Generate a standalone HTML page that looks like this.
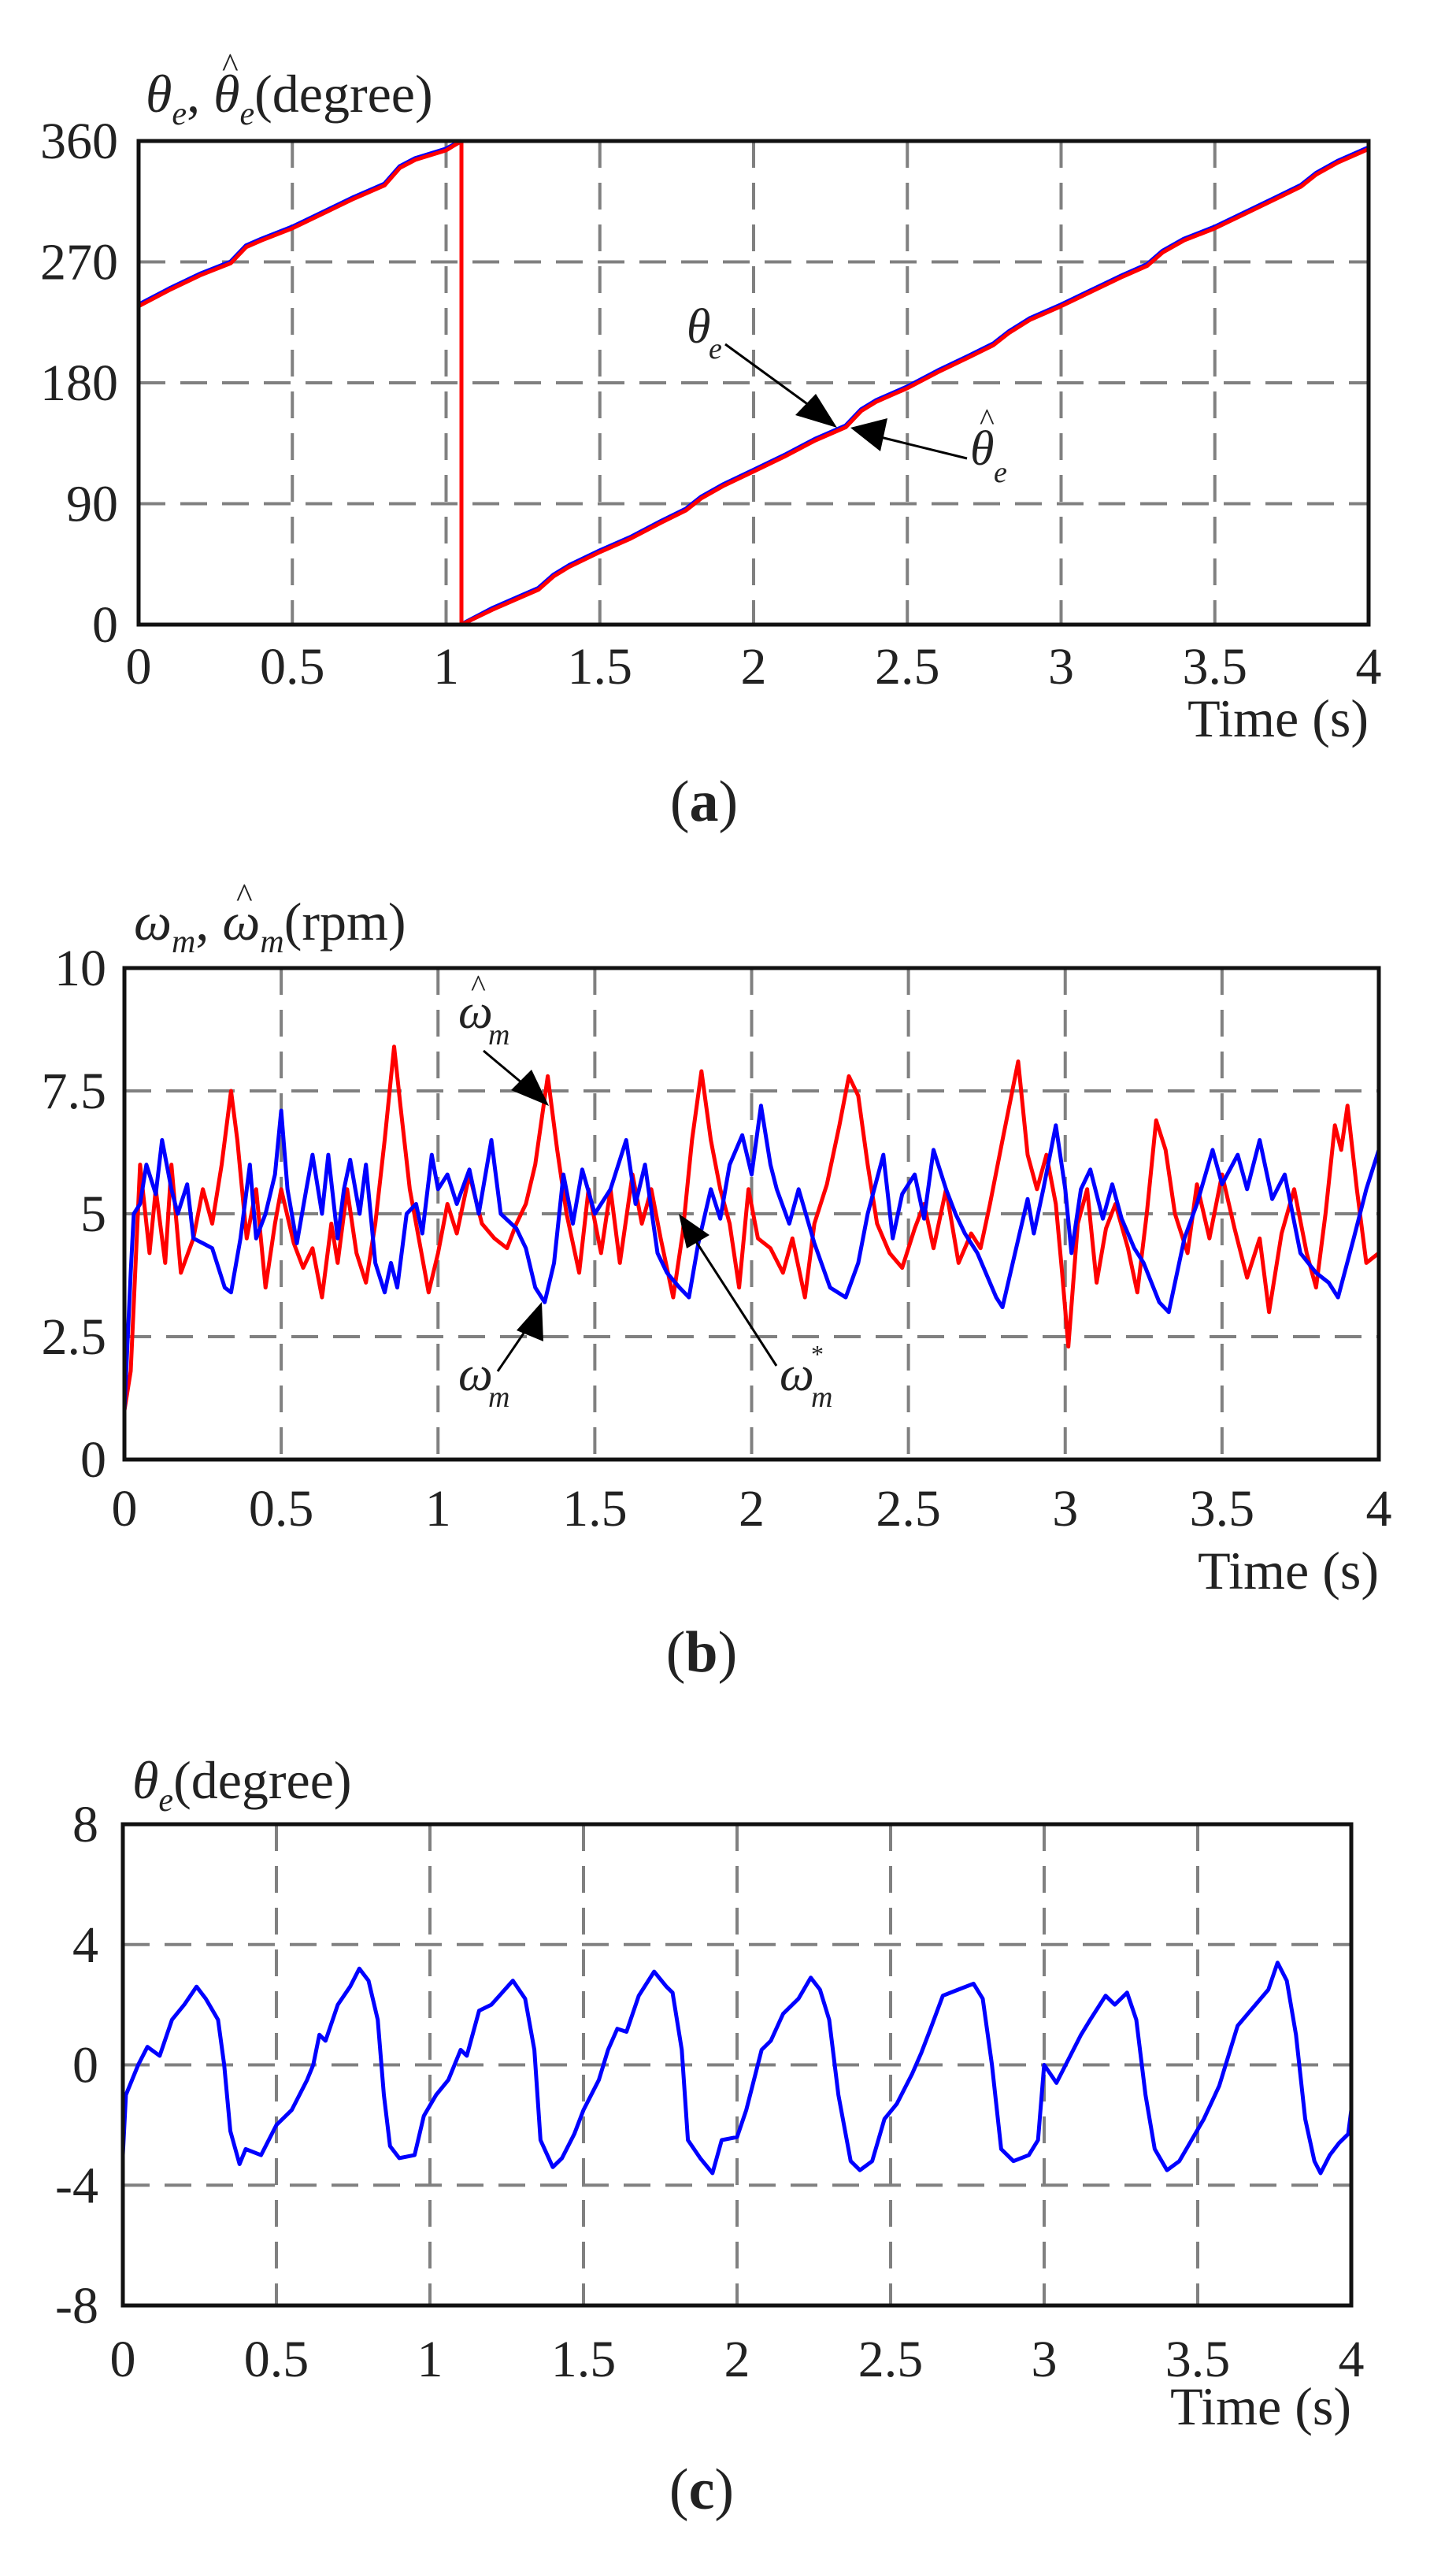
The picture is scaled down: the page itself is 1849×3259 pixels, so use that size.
<!DOCTYPE html>
<html><head><meta charset="utf-8">
<style>
html,body{margin:0;padding:0;background:#fff;}
svg{display:block;}
text{font-family:"Liberation Serif",serif;fill:#222;}
</style></head>
<body>
<svg id="fig" width="1849" height="3259" viewBox="0 0 1849 3259" xmlns="http://www.w3.org/2000/svg">
<rect width="1849" height="3259" fill="#fff"/>
<g id="pa"></g>
<g id="pb"></g>
<g id="pc"></g>

<!-- titles -->
<text x="185" y="142" font-size="68"><tspan font-style="italic">θ</tspan><tspan font-style="italic" font-size="42" dy="16">e</tspan><tspan dy="-16">, </tspan><tspan font-style="italic">θ</tspan><tspan font-style="italic" font-size="42" dy="16">e</tspan><tspan dy="-16">(degree)</tspan></text>
<text x="282" y="98" font-size="44">^</text>
<text x="170" y="1193" font-size="68"><tspan font-style="italic">ω</tspan><tspan font-style="italic" font-size="42" dy="16">m</tspan><tspan dy="-16">, </tspan><tspan font-style="italic">ω</tspan><tspan font-style="italic" font-size="42" dy="16">m</tspan><tspan dy="-16">(rpm)</tspan></text>
<text x="300" y="1152" font-size="44">^</text>
<text x="168" y="2283" font-size="68"><tspan font-style="italic">θ</tspan><tspan font-style="italic" font-size="42" dy="16">e</tspan><tspan dy="-16">(degree)</tspan></text>

<!-- panel labels -->
<text x="894" y="1042" font-size="74" text-anchor="middle">(<tspan font-weight="bold">a</tspan>)</text>
<text x="891" y="2122" font-size="74" text-anchor="middle">(<tspan font-weight="bold">b</tspan>)</text>
<text x="891" y="3185" font-size="74" text-anchor="middle">(<tspan font-weight="bold">c</tspan>)</text>

<!-- annotations panel a -->
<g>
<text x="872" y="435" font-size="62" font-style="italic">θ</text><text x="900" y="455" font-size="38" font-style="italic">e</text>
<line x1="921" y1="437" x2="1035" y2="520" stroke="#000" stroke-width="3"/>
<polygon points="1063,543 1010,527 1036,500" fill="#000"/>
</g>
<g>
<text x="1232" y="590" font-size="62" font-style="italic">θ</text><text x="1244" y="546" font-size="40">^</text><text x="1262" y="612" font-size="38" font-style="italic">e</text>
<line x1="1228" y1="582" x2="1110" y2="553" stroke="#000" stroke-width="3"/>
<polygon points="1080,543 1127,531 1118,573" fill="#000"/>
</g>
<!-- annotations panel b -->
<g>
<text x="582" y="1305" font-size="62" font-style="italic">ω</text><text x="598" y="1265" font-size="40">^</text><text x="620" y="1326" font-size="38" font-style="italic">m</text>
<line x1="614" y1="1334" x2="675" y2="1385" stroke="#000" stroke-width="3"/>
<polygon points="697,1404 649,1384 675,1358" fill="#000"/>
</g>
<g>
<text x="582" y="1765" font-size="62" font-style="italic">ω</text><text x="620" y="1786" font-size="38" font-style="italic">m</text>
<line x1="632" y1="1741" x2="675" y2="1678" stroke="#000" stroke-width="3"/>
<polygon points="688,1653 690,1703 656,1689" fill="#000"/>
</g>
<g>
<text x="990" y="1765" font-size="62" font-style="italic">ω</text><text x="1030" y="1730" font-size="32">*</text><text x="1030" y="1786" font-size="38" font-style="italic">m</text>
<line x1="986" y1="1734" x2="880" y2="1570" stroke="#000" stroke-width="3"/>
<polygon points="862,1541 901,1568 872,1585" fill="#000"/>
</g>
</svg>
<script>
// ---------- Panel (a) data ----------
const aT1 = [0,0.1,0.2,0.3,0.35,0.4,0.5,0.6,0.7,0.75,0.8,0.85,0.9,1.0,1.05];
const aTheta1 = [238,250,261,270,282,287,296,307,318,323,328,341,347,354,360];
const aT2 = [1.05,1.15,1.25,1.3,1.35,1.4,1.5,1.6,1.7,1.78,1.83,1.9,2.0,2.1,2.2,2.3,2.35,2.4,2.5,2.6,2.7,2.78,2.83,2.9,3.0,3.1,3.2,3.28,3.33,3.4,3.5,3.6,3.7,3.78,3.83,3.9,4.0];
const aTheta2 = [0,12,22,27,37,44,55,65,77,86,95,104,115,126,138,148,160,167,177,189,200,209,218,228,238,249,260,268,278,287,296,307,318,327,336,345,355];
const aThetaHat1 = [237,249,260,269,281,286,295,306,317,322,327,340,346,353,360];
const aThetaHat2 = [0,11,21,26,36,43,54,64,76,85,94,103,114,125,137,147,159,166,176,188,199,208,217,227,237,248,259,267,277,286,295,306,317,326,335,344,354];
const aYTicks = [0,90,180,270,360];
const xTicks = [0,0.5,1,1.5,2,2.5,3,3.5,4];
const xTickLabels = ["0","0.5","1","1.5","2","2.5","3","3.5","4"];

// ---------- Panel (b) data ----------
const bBlueT = [0,0.02,0.03,0.05,0.07,0.1,0.12,0.15,0.17,0.2,0.22,0.25,0.28,0.32,0.34,0.37,0.4,0.42,0.45,0.48,0.5,0.52,0.55,0.58,0.6,0.63,0.65,0.68,0.7,0.72,0.75,0.77,0.8,0.83,0.85,0.87,0.9,0.93,0.95,0.98,1.0,1.03,1.06,1.1,1.13,1.17,1.2,1.25,1.28,1.31,1.34,1.37,1.4,1.43,1.46,1.5,1.55,1.6,1.63,1.66,1.7,1.73,1.77,1.8,1.83,1.87,1.9,1.93,1.97,2.0,2.03,2.06,2.08,2.12,2.15,2.2,2.25,2.3,2.34,2.37,2.42,2.45,2.48,2.52,2.55,2.58,2.62,2.65,2.68,2.72,2.78,2.8,2.84,2.88,2.9,2.93,2.97,3.0,3.02,3.05,3.08,3.12,3.15,3.18,3.22,3.25,3.3,3.33,3.38,3.42,3.47,3.5,3.55,3.58,3.62,3.66,3.7,3.75,3.8,3.84,3.87,3.92,3.96,4.0];
const bBlue = [1,3.8,5,5.2,6,5.4,6.5,5.5,5,5.6,4.5,4.4,4.3,3.5,3.4,4.5,6,4.5,5,5.8,7.1,5.5,4.4,5.5,6.2,5,6.2,4.5,5.5,6.1,5,6,4,3.4,4,3.5,5,5.2,4.6,6.2,5.5,5.8,5.2,5.9,5,6.5,5,4.7,4.3,3.5,3.2,4,5.8,4.8,5.9,5,5.5,6.5,5.2,6,4.2,3.8,3.5,3.3,4.4,5.5,4.9,6,6.6,5.8,7.2,6,5.5,4.8,5.5,4.4,3.5,3.3,4,5,6.2,4.5,5.4,5.8,4.9,6.3,5.5,5,4.6,4.2,3.3,3.1,4.2,5.3,4.6,5.5,6.8,5.5,4.2,5.5,5.9,4.9,5.6,4.9,4.3,4,3.2,3,4.5,5.2,6.3,5.6,6.2,5.5,6.5,5.3,5.8,4.2,3.8,3.6,3.3,4.5,5.5,6.3];
const bRedT = [0,0.02,0.05,0.08,0.1,0.13,0.15,0.18,0.22,0.25,0.28,0.31,0.34,0.36,0.39,0.42,0.45,0.48,0.5,0.54,0.57,0.6,0.63,0.66,0.68,0.71,0.74,0.77,0.8,0.83,0.86,0.88,0.91,0.93,0.97,1.0,1.03,1.06,1.1,1.14,1.18,1.22,1.25,1.28,1.31,1.35,1.38,1.41,1.45,1.48,1.52,1.55,1.58,1.62,1.65,1.68,1.71,1.75,1.78,1.81,1.84,1.87,1.9,1.93,1.96,1.99,2.02,2.06,2.1,2.13,2.17,2.2,2.24,2.28,2.31,2.34,2.37,2.4,2.44,2.48,2.52,2.55,2.58,2.62,2.66,2.7,2.73,2.76,2.8,2.85,2.88,2.91,2.94,2.97,2.99,3.01,3.04,3.07,3.1,3.13,3.16,3.2,3.23,3.26,3.29,3.32,3.35,3.39,3.42,3.46,3.5,3.54,3.58,3.62,3.65,3.69,3.73,3.77,3.8,3.83,3.86,3.88,3.9,3.93,3.96,4.0];
const bRed = [1,1.8,6,4.2,5.5,4,6,3.8,4.5,5.5,4.8,6,7.5,6.5,4.5,5.5,3.5,4.8,5.5,4.4,3.9,4.3,3.3,4.8,4,5.5,4.2,3.6,4.8,6.5,8.4,7.2,5.5,4.8,3.4,4.2,5.2,4.6,5.8,4.8,4.5,4.3,4.8,5.2,6,7.8,6.3,5,3.8,5.5,4.2,5.5,4,5.8,4.8,5.5,4.5,3.3,4.6,6.5,7.9,6.5,5.5,4.8,3.5,5.5,4.5,4.3,3.8,4.5,3.3,4.8,5.6,6.8,7.8,7.4,6,4.8,4.2,3.9,4.7,5.2,4.3,5.5,4,4.6,4.3,5.2,6.5,8.1,6.2,5.5,6.2,5.2,3.8,2.3,4.8,5.5,3.6,4.7,5.2,4.3,3.4,5,6.9,6.3,5,4.2,5.6,4.5,5.8,4.7,3.7,4.5,3,4.6,5.5,4.2,3.5,5,6.8,6.3,7.2,5.5,4,4.2];
const bYTicks = [0,2.5,5,7.5,10];
const bYTickLabels = ["0","2.5","5","7.5","10"];

// ---------- Panel (c) data ----------
const cT = [0,0.01,0.05,0.08,0.12,0.16,0.2,0.24,0.27,0.31,0.33,0.35,0.38,0.4,0.45,0.5,0.55,0.6,0.62,0.64,0.66,0.7,0.74,0.77,0.8,0.83,0.85,0.87,0.9,0.95,0.98,1.02,1.06,1.1,1.12,1.16,1.2,1.27,1.31,1.34,1.36,1.4,1.43,1.47,1.5,1.55,1.58,1.61,1.64,1.68,1.73,1.77,1.79,1.82,1.84,1.88,1.92,1.95,2.0,2.03,2.06,2.08,2.11,2.15,2.2,2.24,2.27,2.3,2.33,2.37,2.4,2.44,2.48,2.52,2.57,2.6,2.63,2.67,2.72,2.77,2.8,2.83,2.86,2.9,2.95,2.98,3.0,3.04,3.08,3.12,3.15,3.2,3.23,3.27,3.3,3.33,3.36,3.4,3.44,3.48,3.52,3.57,3.6,3.63,3.68,3.73,3.76,3.79,3.82,3.85,3.88,3.9,3.93,3.96,3.99,4.0];
const cTheta = [-3,-1,0,0.6,0.3,1.5,2,2.6,2.2,1.5,0,-2.2,-3.3,-2.8,-3,-2,-1.5,-0.5,0,1,0.8,2,2.6,3.2,2.8,1.5,-1,-2.7,-3.1,-3,-1.7,-1,-0.5,0.5,0.3,1.8,2,2.8,2.2,0.5,-2.5,-3.4,-3.1,-2.3,-1.5,-0.5,0.5,1.2,1.1,2.3,3.1,2.6,2.4,0.5,-2.5,-3.1,-3.6,-2.5,-2.4,-1.5,-0.3,0.5,0.8,1.7,2.2,2.9,2.5,1.5,-1,-3.2,-3.5,-3.2,-1.8,-1.3,-0.3,0.4,1.2,2.3,2.5,2.7,2.2,0,-2.8,-3.2,-3,-2.5,0,-0.6,0.2,1,1.5,2.3,2,2.4,1.5,-1,-2.8,-3.5,-3.2,-2.5,-1.8,-0.7,0.3,1.3,1.9,2.5,3.4,2.8,1,-1.8,-3.2,-3.6,-3,-2.6,-2.3,-1.5];
const cYTicks = [-8,-4,0,4,8];

const NS = "http://www.w3.org/2000/svg";
function mk(parent, tag, attrs){
  const e = document.createElementNS(NS, tag);
  for (const k in attrs) e.setAttribute(k, attrs[k]);
  parent.appendChild(e);
  return e;
}
function panel(g, box, yMin, yMax, yTicks, yLabels, series, opts){
  const X = t => box.l + (t/4)*(box.r-box.l);
  const Y = v => box.b - (v-yMin)/(yMax-yMin)*(box.b-box.t);
  xTicks.forEach((t,i)=>{
    if(i===0||i===xTicks.length-1) return;
    const ln = mk(g,'line',{x1:X(t),x2:X(t),y1:box.t,y2:box.b,stroke:'#808080','stroke-width':4,'stroke-dasharray':'34 19'});
    
    
  });
  yTicks.forEach((v,i)=>{
    if(i===0||i===yTicks.length-1) return;
    const ln = mk(g,'line',{x1:box.l,x2:box.r,y1:Y(v),y2:Y(v),stroke:'#808080','stroke-width':4,'stroke-dasharray':'34 19'});
    
    
  });
  series.forEach(s=>{
    s.parts.forEach(p=>{
      let d='';
      p.t.forEach((t,i)=>{ d += (i?'L':'M') + X(t).toFixed(1)+','+Y(p.v[i]).toFixed(1); });
      const path = mk(g,'path',{d:d,fill:'none',stroke:s.color,'stroke-width':s.w,'stroke-linejoin':'round'});
      
      
    });
  });
  const fr = mk(g,'rect',{x:box.l,y:box.t,width:box.r-box.l,height:box.b-box.t,fill:'none',stroke:'#111','stroke-width':5});
  
  
  yTicks.forEach((v,i)=>{
    const tx = mk(g,'text',{x:box.l-opts.yOff,y:Y(v)+22,'font-size':66,'text-anchor':'end'});
    tx.textContent = yLabels[i];
    
    
  });
  xTicks.forEach((t,i)=>{
    const tx = mk(g,'text',{x:X(t),y:box.b+opts.xOff,'font-size':66,'text-anchor':'middle'});
    tx.textContent = xTickLabels[i];
    
    
  });
  const xt = mk(g,'text',{x:box.r,y:box.b+opts.tOff,'font-size':68,'text-anchor':'end'});
  xt.textContent = 'Time (s)';
  
  
}

panel(document.getElementById('pa'), {l:176,r:1738,t:179,b:793}, 0, 360, aYTicks, aYTicks.map(String), [
  {name:'theta-e-line', color:'#0000ff', w:6, parts:[{t:aT1,v:aTheta1},{t:aT2,v:aTheta2}]},
  {name:'theta-e-hat-line', color:'#ff0000', w:5, parts:[{t:aT1.concat([aT2[0]]),v:aThetaHat1.concat([aThetaHat2[0]])},{t:aT2,v:aThetaHat2}]}
], {yOff:26, xOff:75, tOff:142});

panel(document.getElementById('pb'), {l:158,r:1751,t:1229,b:1853}, 0, 10, bYTicks, bYTickLabels, [
  {name:'omega-hat-line', color:'#ff0000', w:5, parts:[{t:bRedT,v:bRed}]},
  {name:'omega-m-line', color:'#0000ff', w:5, parts:[{t:bBlueT,v:bBlue}]}
], {yOff:23, xOff:84, tOff:164});

panel(document.getElementById('pc'), {l:156,r:1716,t:2316,b:2927}, -8, 8, cYTicks, cYTicks.map(String), [
  {name:'theta-error-line', color:'#0000ff', w:5, parts:[{t:cT,v:cTheta}]}
], {yOff:31, xOff:90, tOff:151});
</script>
</body></html>
